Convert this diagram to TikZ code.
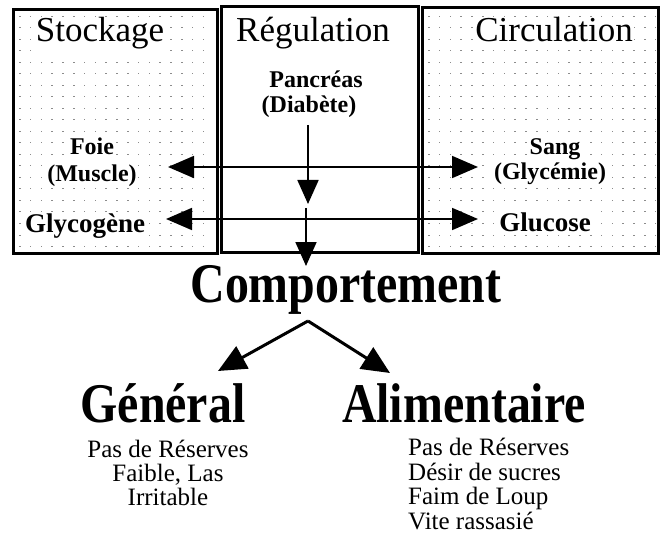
\documentclass[tikz,border=0pt]{standalone}
\usepackage{fontspec}
\setmainfont{Liberation Serif}
\usepackage{graphicx}
\usetikzlibrary{arrows.meta}
\tikzset{
  boxframe/.style={draw=black, line width=3pt},
  title/.style={anchor=base, font=\fontsize{35}{38}\selectfont, fill=white, inner sep=1pt},
  lab/.style={anchor=base, font=\fontsize{24}{26}\selectfont\bfseries, fill=white, inner sep=1pt},
  labbig/.style={anchor=base, font=\fontsize{27}{29}\selectfont\bfseries, fill=white, inner sep=1pt},
  big/.style={anchor=base, font=\fontsize{56}{60}\selectfont\bfseries, inner sep=0pt},
  item/.style={anchor=base, font=\fontsize{25}{27}\selectfont, inner sep=0pt},
  thinarr/.style={line width=1.8pt, -{Triangle[length=24pt,width=21pt]}},
  thinboth/.style={line width=1.8pt, {Triangle[length=26pt,width=22pt]}-{Triangle[length=26pt,width=22pt]}},
  thickarr/.style={line width=3pt, -{Triangle[length=28pt,width=25pt]}},
  griddot/.style={fill=black!45, draw=none}
}
\newcommand{\condtext}[1]{\scalebox{0.855}[1]{#1}}
\begin{document}
\begin{tikzpicture}[x=1pt,y=-1pt]
\useasboundingbox (0,0) rectangle (661,540);
% dotted backgrounds
\foreach \x in {19,29.8,...,212} {
  \foreach \y in {16,27.5,...,250} {
    \fill[griddot] (\x,\y) rectangle ++(1.6,1);
  }
}
\foreach \x in {428,438.8,...,655} {
  \foreach \y in {16,27.5,...,250} {
    \fill[griddot] (\x,\y) rectangle ++(1.6,1);
  }
}
% boxes
\draw[boxframe] (13,10) rectangle (217,253);
\draw[boxframe] (221,7) rectangle (418,252);
\draw[boxframe] (422,8) rectangle (658,253);
% titles
\node[title] (stock) at (100,42) {Stockage};
\node[title] (regul) at (313,42) {Régulation};
\node[title] (circ) at (554,42) {Circulation};
% labels
\node[lab] (pancreas) at (316,88) {Pancréas};
\node[lab] (diabete) at (309,113) {(Diabète)};
\node[lab] (foie) at (92,155) {Foie};
\node[lab] (muscle) at (92,182) {(Muscle)};
\node[labbig] (glycogene) at (85,233) {Glycogène};
\node[lab] (sang) at (555,155) {Sang};
\node[lab] (glycemie) at (550,180) {(Glycémie)};
\node[labbig] (glucose) at (545,231) {Glucose};
% connector end points
\coordinate (l1) at (168,167);
\coordinate (r1) at (478,167);
\coordinate (l2) at (166,219);
\coordinate (r2) at (478,219);
\coordinate (vtop) at (308,125);
\coordinate (vmid) at (308,204);
\coordinate (vmid2) at (306,208);
\coordinate (vbot) at (306,266);
\draw[thinboth] (l1) -- (r1);
\draw[thinboth] (l2) -- (r2);
\draw[thinarr] (vtop) -- (vmid);
\draw[thinarr] (vmid2) -- (vbot);
% behaviour
\node[big] (comp) at (346,302) {\condtext{Comportement}};
\coordinate (apex) at (308,321);
\coordinate (ltip) at (218,371);
\coordinate (rtip) at (390,373);
\draw[thickarr] (apex) -- (ltip);
\draw[thickarr] (apex) -- (rtip);
\node[big] (general) at (163,422) {\condtext{Général}};
\node[big] (alim) at (464,422) {\condtext{Alimentaire}};
\node[item] (g1) at (168,457) {Pas de Réserves};
\node[item] (g2) at (168,481) {Faible, Las};
\node[item] (g3) at (168,505) {Irritable};
\node[item, anchor=base west] (a1) at (408,455) {Pas de Réserves};
\node[item, anchor=base west] (a2) at (408,480) {Désir de sucres};
\node[item, anchor=base west] (a3) at (408,504) {Faim de Loup};
\node[item, anchor=base west] (a4) at (408,529) {Vite rassasié};
\end{tikzpicture}
\end{document}
